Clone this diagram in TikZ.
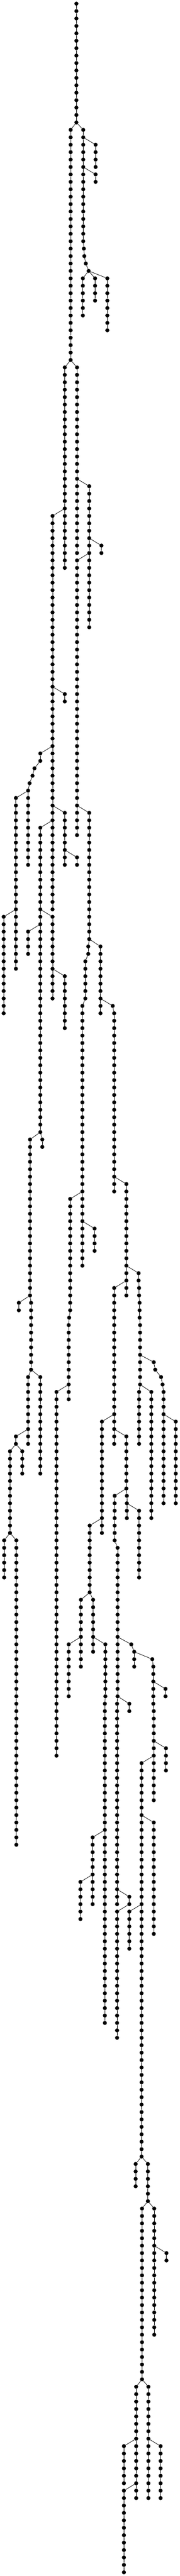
\documentclass[tikz,border=0pt]{standalone}
\tikzset{
  dotnode/.style={circle,fill=black,draw=none,inner sep=0pt,minimum size=11pt},
  edgeline/.style={draw=black,line width=1.1pt}
}
\begin{document}
\begin{tikzpicture}[x=0.33333pt,y=-20.268pt]
\path[use as bounding box,fill=white] (0,-0.4934) rectangle (1470,346.5);
% chains: x / first row / last row
\foreach \cx/\ca/\cb in {
625/0/16,578/17/48,681/17/32,686/33/33,690/34/34,702/35/35,725/36/36,
782/19/22,782/23/24,678/37/42,778/37/40,878/37/44,
530/49/76,630/49/74,430/69/122,730/65/84,830/73/74,630/75/112,
530/93/94,330/101/102,282/103/103,266/104/104,242/105/105,230/106/116,130/107/130,
530/109/116,630/115/116,730/109/126,330/111/152,
30/123/136,430/123/134,230/125/128,530/131/138,
722/127/128,698/129/134,674/135/170,822/127/136,922/135/135,934/136/160,
246/153/174,346/153/154,574/161/176,566/177/177,562/178/188,774/165/168,
1034/159/174,1134/171/172,1138/173/174,1142/175/177,1146/178/186,934/173/194,
154/175/176,254/175/184,230/185/194,330/185/198,130/193/194,82/195/206,182/195/198,462/187/236,
834/191/206,1034/193/200,938/201/207,1038/201/204,1138/203/212,
1258/183/183,1270/184/184,1318/185/185,1330/186/186,1338/187/202,1138/187/194,1238/187/204,1438/191/202,734/205/214,
34/207/212,134/207/248,662/215/224,762/215/222,562/221/228,862/221/228,858/229/272,
962/208/228,958/229/256,1074/221/221,1098/222/224,1246/223/223,1254/224/229,1258/230/242,
1354/227/228,1358/235/238,1058/229/230,1158/237/290,1258/245/260,758/247/256,658/253/258,
1058/255/256,958/257/274,1058/257/262,
1110/291/294,1210/291/296,1162/297/320,1262/297/314,1362/303/304,
1114/321/336,1214/321/336,1014/329/334,1014/335/346,1314/329/336}{
  \foreach \r in {\ca,...,\cb}{
    \node[dotnode] (n\cx-\r) at (\cx,\r) {};
    \ifnum\r>\ca\relax
      \pgfmathtruncatemacro{\prevr}{\r-1}
      \draw[edgeline] (n\cx-\prevr) -- (n\cx-\r);
    \fi
  }
}
% links between chains
\foreach \xa/\ra/\xb/\rb in {
625/16/578/17,625/16/681/17,681/18/782/19,681/22/782/23,
681/32/686/33,686/33/690/34,690/34/702/35,702/35/725/36,
725/36/678/37,725/36/778/37,725/36/878/37,
578/48/530/49,578/48/630/49,530/68/430/69,630/64/730/65,730/72/830/73,730/74/630/75,
430/92/530/93,430/100/330/101,330/102/282/103,282/103/266/104,266/104/242/105,242/105/230/106,
230/106/130/107,430/108/530/109,430/110/330/111,630/108/730/109,530/114/630/115,
130/122/30/123,330/122/430/123,330/124/230/125,430/130/530/131,
730/126/822/127,730/126/722/127,722/128/698/129,698/134/674/135,822/134/922/135,922/135/934/136,
330/152/246/153,330/152/346/153,674/160/574/161,674/164/774/165,934/158/1034/159,
1034/170/1134/171,1034/172/934/173,1134/172/1138/173,1138/174/1142/175,1142/177/1146/178,
246/174/154/175,246/174/254/175,574/176/566/177,566/177/562/178,
254/184/230/185,254/184/330/185,230/192/130/193,130/194/82/195,130/194/182/195,
562/186/462/187,934/190/834/191,934/192/1034/193,
1146/182/1258/183,1258/183/1270/184,1270/184/1318/185,1318/185/1330/186,1330/186/1338/187,
1146/186/1138/187,1146/186/1238/187,1338/190/1438/191,834/204/734/205,
1034/200/938/201,1034/200/1038/201,1038/202/1138/203,82/206/34/207,82/206/134/207,
938/207/962/208,734/214/662/215,734/214/762/215,662/220/562/221,762/220/862/221,862/228/858/229,
962/220/1074/221,1074/221/1098/222,1098/222/1246/223,1246/223/1254/224,
962/228/958/229,962/228/1058/229,1254/226/1354/227,1254/229/1258/230,1258/234/1358/235,
1258/236/1158/237,1158/244/1258/245,858/246/758/247,758/252/658/253,
958/254/1058/255,1058/256/958/257,1158/256/1058/257,
1158/290/1110/291,1158/290/1210/291,1210/296/1162/297,1210/296/1262/297,1262/302/1362/303,
1162/320/1114/321,1162/320/1214/321,1114/328/1014/329,1214/328/1314/329,1114/334/1014/335}{
  \draw[edgeline] (n\xa-\ra) -- (n\xb-\rb);
}
\end{tikzpicture}
\end{document}
